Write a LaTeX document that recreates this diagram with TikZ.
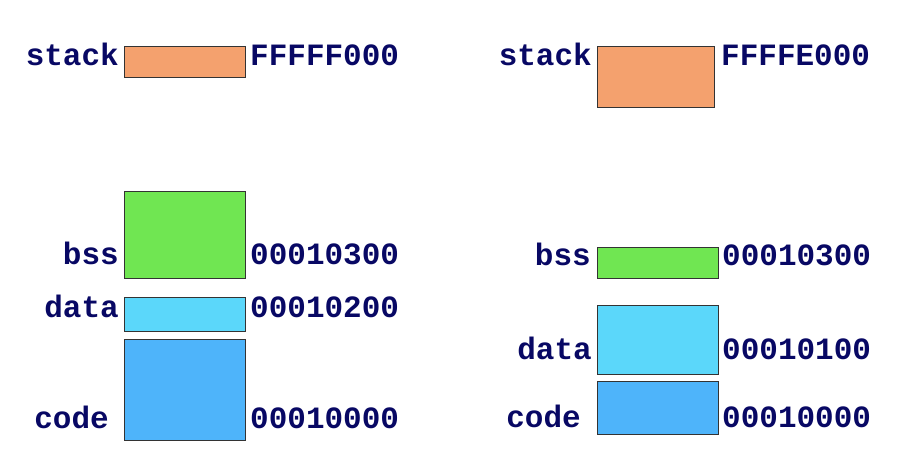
\documentclass[tikz,border=0pt]{standalone}
\usepackage{fontspec}
\setmonofont{Liberation Mono}
\begin{document}
\begin{tikzpicture}[x=1pt,y=-1pt,
  seg/.style={draw=black!80, line width=1pt, inner sep=0pt, outer sep=0pt, anchor=north west},
  lbl/.style={text=navytxt, font=\ttfamily\bfseries\fontsize{31}{31}\selectfont, inner sep=0pt, anchor=base east},
  addr/.style={text=navytxt, font=\ttfamily\bfseries\fontsize{31}{31}\selectfont, inner sep=0pt, anchor=base west}]
\definecolor{navytxt}{RGB}{8,8,100}
\definecolor{stackc}{RGB}{244,161,110}
\definecolor{bssc}{RGB}{112,230,82}
\definecolor{datac}{RGB}{91,215,250}
\definecolor{codec}{RGB}{78,180,250}
\useasboundingbox (0,0) rectangle (905,458);
% left layout
\node[seg, fill=stackc, minimum width=121pt, minimum height=31pt] (Lstack) at (124,46) {};
\node[seg, fill=bssc,   minimum width=121pt, minimum height=87pt] (Lbss)   at (124,191) {};
\node[seg, fill=datac,  minimum width=121pt, minimum height=34pt] (Ldata)  at (124,297) {};
\node[seg, fill=codec,  minimum width=121pt, minimum height=101pt] (Lcode) at (124,339) {};
\node[lbl] (Lstackl) at (119,65) {stack};
\node[lbl] (Lbssl)   at (119,264) {bss};
\node[lbl] (Ldatal)  at (119,317) {data};
\node[lbl] (Lcodel)  at (109,428) {code};
\node[addr] (Lstacka) at (250,65) {FFFFF000};
\node[addr] (Lbssa)   at (250,264) {00010300};
\node[addr] (Ldataa)  at (250,317) {00010200};
\node[addr] (Lcodea)  at (250,428) {00010000};
% right layout
\node[seg, fill=stackc, minimum width=117pt, minimum height=61pt] (Rstack) at (597,46) {};
\node[seg, fill=bssc,   minimum width=121pt, minimum height=31pt] (Rbss)   at (597,247) {};
\node[seg, fill=datac,  minimum width=121pt, minimum height=69pt] (Rdata)  at (597,305) {};
\node[seg, fill=codec,  minimum width=121pt, minimum height=53pt] (Rcode)  at (597,381) {};
\node[lbl] (Rstackl) at (592,65) {stack};
\node[lbl] (Rbssl)   at (591,265) {bss};
\node[lbl] (Rdatal)  at (592,359) {data};
\node[lbl] (Rcodel)  at (581,427) {code};
\node[addr] (Rstacka) at (721,65) {FFFFE000};
\node[addr] (Rbssa)   at (722,265) {00010300};
\node[addr] (Rdataa)  at (722,359) {00010100};
\node[addr] (Rcodea)  at (722,427) {00010000};
\end{tikzpicture}
\end{document}
